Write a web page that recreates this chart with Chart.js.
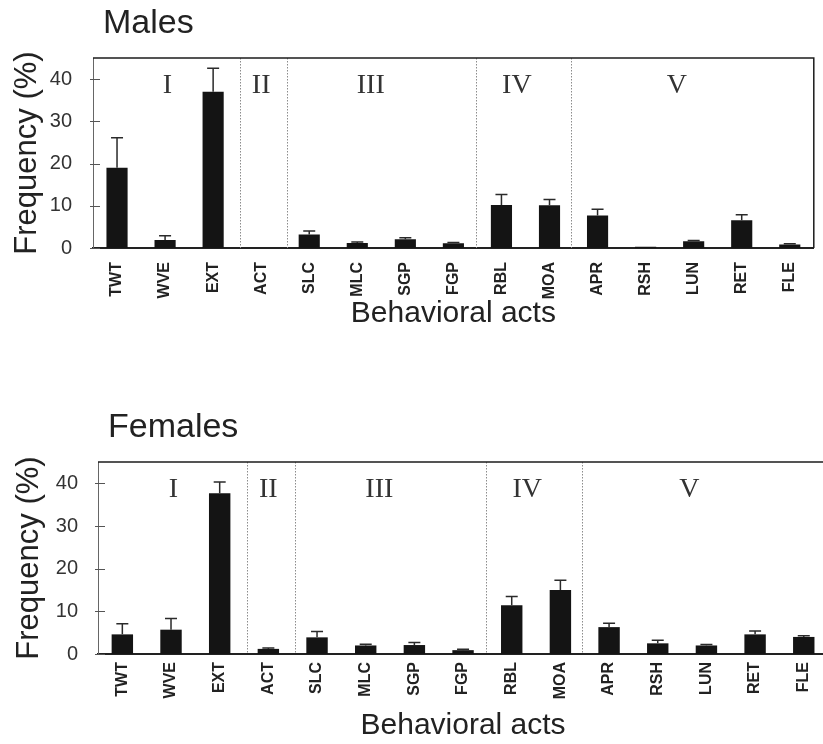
<!DOCTYPE html>
<html>
<head>
<meta charset="utf-8">
<script src="https://cdn.jsdelivr.net/npm/chart.js@4/dist/chart.umd.min.js"></script>
<style>
  html, body { margin: 0; padding: 0; background: #fff; overflow: hidden; }
  #wrap { position: relative; width: 823px; height: 744px; overflow: hidden; }
  canvas { position: absolute; left: 0; }
  #males { top: 0; }
  #females { top: 372px; }
</style>
</head>
<body>
<div id="wrap">
  <canvas id="males" width="823" height="372"></canvas>
  <canvas id="females" width="831" height="372"></canvas>
</div>
<script>
const acts = ['TWT', 'WVE', 'EXT', 'ACT', 'SLC', 'MLC', 'SGP', 'FGP', 'RBL', 'MOA', 'APR', 'RSH', 'LUN', 'RET', 'FLE'];
const yTicks = [0, 10, 20, 30, 40];

// act groups: roman numeral, where it sits (in category units) and the dotted breaks between groups
const groupNames = ['I', 'II', 'III', 'IV', 'V'];
const groupCenters = [1.05, 3, 5.28, 8.32, 11.65];
const groupBreaks = [2.56, 3.54, 7.48, 9.45];
const groupLabelY = 38.5;

// frequency (%) and upper error (SE)
const maleMean = [19.0, 1.9, 37.0, 0, 3.2, 1.2, 2.1, 1.1, 10.2, 10.1, 7.7, 0.3, 1.6, 6.6, 0.8];
const maleSE   = [7.1, 1.0, 5.6, 0, 0.8, 0.2, 0.3, 0.2, 2.5, 1.4, 1.5, 0, 0.2, 1.3, 0.2];
const femaleMean = [4.6, 5.7, 37.7, 1.2, 3.9, 2.0, 2.1, 0.9, 11.4, 15.0, 6.3, 2.5, 2.0, 4.6, 4.0];
const femaleSE   = [2.5, 2.6, 2.6, 0.2, 1.4, 0.3, 0.6, 0.2, 2.1, 2.3, 0.9, 0.7, 0.2, 0.8, 0.3];

const sans = '"Liberation Sans", Arial, sans-serif';
const serif = '"Liberation Serif", "Times New Roman", serif';

const decor = {
  id: 'decor',
  beforeDatasetsDraw(chart, args, o) {
    const { ctx, chartArea: a, scales: { x } } = chart;
    ctx.save();
    ctx.strokeStyle = '#8c8c8c';
    ctx.lineWidth = 1;
    ctx.setLineDash([1.5, 1.5]);
    groupBreaks.forEach(b => {
      const px = Math.round(x.getPixelForValue(b)) + 0.5;
      ctx.beginPath();
      ctx.moveTo(px, a.top);
      ctx.lineTo(px, a.bottom);
      ctx.stroke();
    });
    ctx.restore();
  },
  afterDatasetsDraw(chart, args, o) {
    const { ctx, chartArea: a, scales: { x, y } } = chart;
    ctx.save();

    // error bars, upper side only
    ctx.strokeStyle = '#2a2a2a';
    ctx.lineWidth = 1.5;
    o.mean.forEach((m, i) => {
      const se = o.se[i];
      if (!se) return;
      const px = x.getPixelForValue(i);
      const y0 = y.getPixelForValue(m);
      const y1 = y.getPixelForValue(m + se);
      ctx.beginPath();
      ctx.moveTo(px, y0);
      ctx.lineTo(px, y1);
      ctx.moveTo(px - 6, y1);
      ctx.lineTo(px + 6, y1);
      ctx.stroke();
    });

    // frame top and right
    ctx.strokeStyle = '#1c1c1c';
    ctx.beginPath();
    ctx.moveTo(a.left, a.top);
    ctx.lineTo(a.right, a.top);
    ctx.lineTo(a.right, a.bottom);
    ctx.stroke();

    // y ticks pointing inward
    ctx.strokeStyle = '#555';
    ctx.lineWidth = 1;
    yTicks.forEach(v => {
      const py = Math.round(y.getPixelForValue(v)) + 0.5;
      ctx.beginPath();
      ctx.moveTo(a.left - 3, py);
      ctx.lineTo(a.left + 7, py);
      ctx.stroke();
    });

    // group numerals
    ctx.fillStyle = '#333';
    ctx.font = '28px ' + serif;
    ctx.textAlign = 'center';
    ctx.textBaseline = 'middle';
    groupNames.forEach((g, i) => {
      ctx.fillText(g, x.getPixelForValue(groupCenters[i]), y.getPixelForValue(groupLabelY));
    });

    // panel title
    ctx.fillStyle = '#222';
    ctx.font = '34px ' + sans;
    ctx.textAlign = 'left';
    ctx.textBaseline = 'alphabetic';
    ctx.fillText(o.title, a.left + 10, a.top - 25);
    ctx.restore();
  }
};

function makeChart(id, title, mean, se, d) {
  return new Chart(document.getElementById(id), {
    type: 'bar',
    data: {
      labels: acts,
      datasets: [{
        data: mean,
        backgroundColor: '#141414',
        borderWidth: 0,
        barPercentage: 0.44,
        categoryPercentage: 1
      }]
    },
    options: {
      responsive: false,
      animation: false,
      layout: { padding: { top: d.top, right: 1, left: 0, bottom: 0 } },
      plugins: {
        legend: { display: false },
        tooltip: { enabled: false },
        decor: { title: title, mean: mean, se: se }
      },
      scales: {
        x: {
          grid: { display: false, drawTicks: false },
          border: { display: true, color: '#222', width: 2 },
          afterFit: s => { s.height = d.xHeight; },
          ticks: {
            autoSkip: false,
            minRotation: 90,
            maxRotation: 90,
            padding: d.tickPad,
            color: '#222',
            font: { family: sans, size: 16, weight: 'bold' }
          },
          title: {
            display: true,
            text: 'Behavioral acts',
            color: '#222',
            font: { family: sans, size: 30 },
            padding: { top: 0, bottom: d.xTitlePad }
          }
        },
        y: {
          min: 0,
          max: 45,
          afterBuildTicks: s => { s.ticks = yTicks.map(v => ({ value: v })); },
          afterFit: s => { s.width = d.left; },
          grid: { display: false, drawTicks: false },
          border: { display: true, color: '#666', width: 1 },
          ticks: {
            padding: d.yTickPad,
            color: '#333',
            font: { family: sans, size: 20 }
          },
          title: {
            display: true,
            text: 'Frequency (%)',
            color: '#222',
            font: { family: sans, size: 31 },
            padding: { top: d.yTitlePad, bottom: 0 }
          }
        }
      }
    },
    plugins: [decor]
  });
}

makeChart('males', 'Males', maleMean, maleSE,
  { top: 58, left: 93, xHeight: 124, tickPad: 14, xTitlePad: 40, yTickPad: 21, yTitlePad: 9 });
makeChart('females', 'Females', femaleMean, femaleSE,
  { top: 90, left: 98, xHeight: 90, tickPad: 8, xTitlePad: 0, yTickPad: 20, yTitlePad: 11 });
</script>
</body>
</html>
